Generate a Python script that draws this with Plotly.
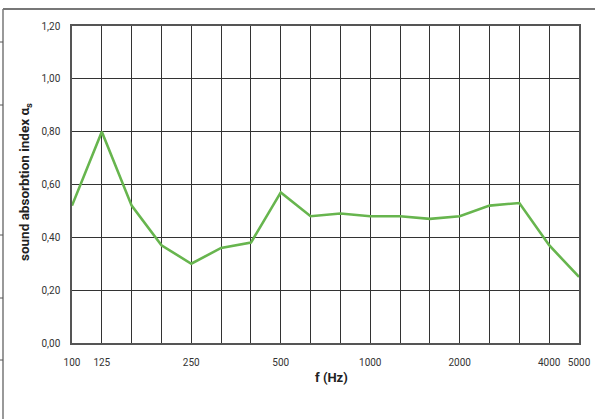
import plotly.graph_objects as go

## DATA ##
freqs = ["100", "125", "160", "200", "250", "315", "400", "500", "630", "800",
         "1000", "1250", "1600", "2000", "2500", "3150", "4000", "5000"]
alpha_s = [0.52, 0.80, 0.52, 0.37, 0.30, 0.36, 0.38, 0.57, 0.48, 0.49,
           0.48, 0.48, 0.47, 0.48, 0.52, 0.53, 0.37, 0.25]
shown_labels = ["100", "125", "250", "500", "1000", "2000", "4000", "5000"]
y_ticks = [0.0, 0.2, 0.4, 0.6, 0.8, 1.0, 1.2]

## LAYOUT PARAMS ##
W, H = 595, 419
L, R, T, B = 72, 16, 26, 76
PW, PH = W - L - R, H - T - B


def px(x):
    # screen pixel -> paper coord
    return (x - L) / PW


def py(y):
    return (H - B - y) / PH


idx = list(range(len(freqs)))
label_pos = [i for i, f in enumerate(freqs) if f in shown_labels]
label_txt = [freqs[i] for i in label_pos]

fig = go.Figure()
fig.add_trace(go.Scatter(
    x=idx, y=alpha_s,
    mode="lines",
    line=dict(color="#67b54e", width=2.6),
    showlegend=False,
    cliponaxis=False,
))

fig.update_layout(
    width=W, height=H,
    margin=dict(l=L, r=R, t=T, b=B),
    plot_bgcolor="white",
    paper_bgcolor="white",
    font=dict(family="Roboto", size=10, color="#333"),
    separators=",.",
    xaxis=dict(
        range=[0, len(freqs) - 1],
        tickmode="array",
        tickvals=label_pos,
        ticktext=label_txt,
        showgrid=True,
        gridcolor="#333",
        gridwidth=1,
        minor=dict(tickmode="array", tickvals=idx, showgrid=True,
                   gridcolor="#333", gridwidth=1, ticks=""),
        showline=True,
        linecolor="#555",
        linewidth=1.5,
        mirror=True,
        zeroline=False,
        ticks="",
        ticklabelstandoff=9,
        automargin=False,
    ),
    yaxis=dict(
        range=[0, 1.2],
        tickmode="array",
        tickvals=y_ticks,
        tickformat=".2f",
        showgrid=True,
        gridcolor="#333",
        gridwidth=1,
        showline=True,
        linecolor="#555",
        linewidth=1.5,
        mirror=True,
        zeroline=False,
        ticks="",
        ticklabelstandoff=8,
        automargin=False,
    ),
)

# axis titles
fig.add_annotation(x=px(331), y=py(377), xref="paper", yref="paper",
                   xanchor="center", yanchor="middle",
                   text="<b>f (Hz)</b>", showarrow=False,
                   font=dict(size=13, color="#222"))
fig.add_annotation(x=px(25), y=py(182), xref="paper", yref="paper",
                   xanchor="center", yanchor="middle",
                   text="<b>sound absorbtion index α<sub>s</sub></b>", showarrow=False,
                   textangle=-90, font=dict(size=13.5, color="#222"))

# outer frame lines + small ticks on the left
fig.add_shape(type="line", xref="paper", yref="paper", layer="above",
              x0=px(3), x1=px(595), y0=py(9), y1=py(9),
              line=dict(color="#777", width=2))
fig.add_shape(type="line", xref="paper", yref="paper", layer="above",
              x0=px(3), x1=px(3), y0=py(9), y1=py(419),
              line=dict(color="#777", width=1.5))
for yy in [42, 105, 235, 298, 360]:
    fig.add_shape(type="line", xref="paper", yref="paper",
                  x0=px(0), x1=px(3), y0=py(yy), y1=py(yy),
                  line=dict(color="#555", width=1))

# drop the default page margin so the figure sits at (0, 0)
fig.write_html("out.html",
               config=dict(displayModeBar=False),
               post_script="document.body.style.margin='0';")
